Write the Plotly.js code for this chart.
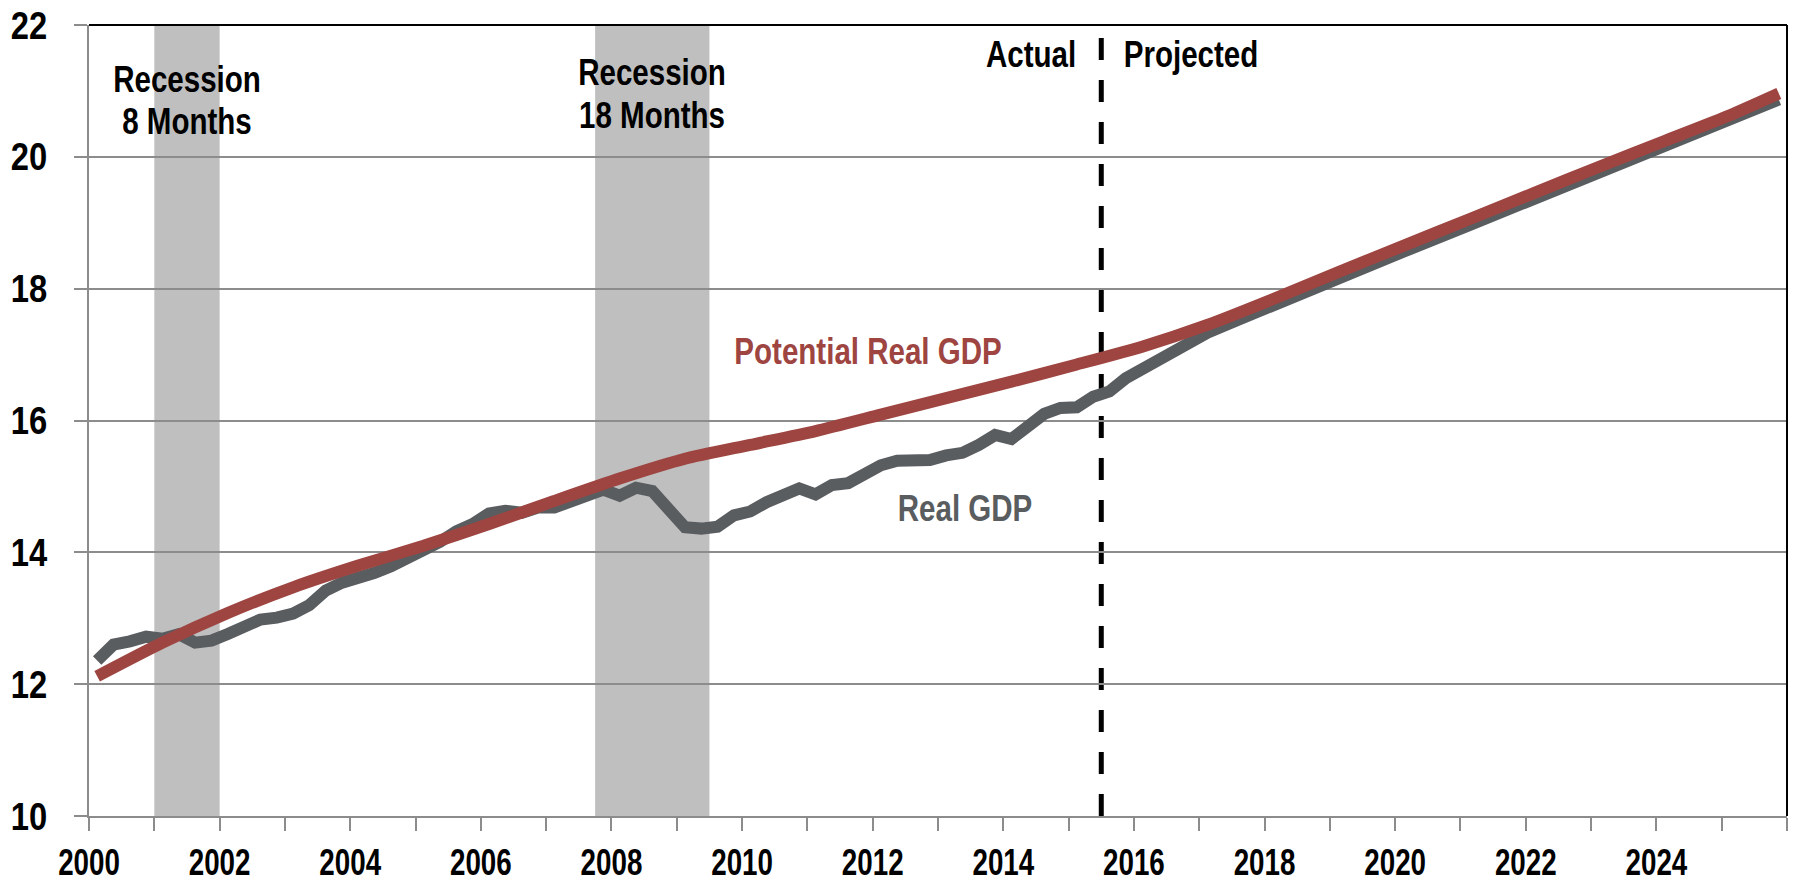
<!DOCTYPE html>
<html>
<head>
<meta charset="utf-8">
<script src="https://cdn.plot.ly/plotly-3.0.1.min.js"></script>
<style>
  html, body { margin: 0; padding: 0; background: #ffffff; }
  #chart { width: 1796px; height: 888px; }
</style>
</head>
<body>
<div id="chart"></div>
<script>
// ---- Data (trillions of 2009 dollars), x in decimal years (mid-quarter) ----
const actualX = [
  2000.125, 2000.375, 2000.625, 2000.875,
  2001.125, 2001.375, 2001.625, 2001.875,
  2002.125, 2002.375, 2002.625, 2002.875,
  2003.125, 2003.375, 2003.625, 2003.875,
  2004.125, 2004.375, 2004.625, 2004.875,
  2005.125, 2005.375, 2005.625, 2005.875,
  2006.125, 2006.375, 2006.625, 2006.875,
  2007.125, 2007.375, 2007.625, 2007.875,
  2008.125, 2008.375, 2008.625, 2008.875,
  2009.125, 2009.375, 2009.625, 2009.875,
  2010.125, 2010.375, 2010.625, 2010.875,
  2011.125, 2011.375, 2011.625, 2011.875,
  2012.125, 2012.375, 2012.625, 2012.875,
  2013.125, 2013.375, 2013.625, 2013.875,
  2014.125, 2014.375, 2014.625, 2014.875,
  2015.125, 2015.375
];
const realGdpActual = [
  12.36, 12.60, 12.65, 12.72,
  12.69, 12.76, 12.63, 12.66,
  12.76, 12.88, 12.98, 13.01,
  13.07, 13.20, 13.42, 13.54,
  13.60, 13.69, 13.79, 13.90,
  14.05, 14.16, 14.32, 14.43,
  14.59, 14.63, 14.60, 14.68,
  14.68, 14.78, 14.88, 14.95,
  14.86, 14.98, 14.93, 14.62,
  14.38, 14.36, 14.39, 14.56,
  14.62, 14.76, 14.87, 14.97,
  14.88, 15.02, 15.05, 15.21,
  15.32, 15.39, 15.40, 15.40,
  15.47, 15.51, 15.63, 15.78,
  15.72, 15.90, 16.10, 16.19,
  16.20, 16.36
];
const projectedX = [
  2015.625, 2015.875, 2016.125, 2016.625, 2017.125, 2017.625,
  2018.125, 2019.125, 2020.125, 2021.125, 2022.125, 2023.125,
  2024.125, 2025.125, 2025.875
];
const realGdpProjected = [
  16.44, 16.64, 16.78, 17.05, 17.33, 17.54,
  17.75, 18.16, 18.56, 18.96, 19.36, 19.76,
  20.15, 20.54, 20.87
];
const potentialX = [
  2000.125, 2001.125, 2002.125, 2003.125, 2004.125, 2005.125,
  2006.125, 2007.125, 2008.125, 2009.125, 2010.125, 2011.125,
  2012.125, 2013.125, 2014.125, 2015.125, 2016.125, 2017.125,
  2018.125, 2019.125, 2020.125, 2021.125, 2022.125, 2023.125,
  2024.125, 2025.125, 2025.875
];
const potentialGdp = [
  12.12, 12.63, 13.08, 13.47, 13.80, 14.10,
  14.43, 14.78, 15.12, 15.42, 15.63, 15.84,
  16.09, 16.34, 16.59, 16.85, 17.12, 17.45,
  17.84, 18.25, 18.65, 19.05, 19.45, 19.85,
  20.24, 20.63, 20.96
];
// Recession periods [start, end] in decimal years
const recessions = [[2001.0, 2002.0], [2007.75, 2009.5]];
const recessionLabels = [["Recession", "8 Months"], ["Recession", "18 Months"]];
const projectionStart = 2015.5;
const yearTicks = [];
for (let y = 2000; y <= 2026; y++) yearTicks.push(y);
const yearTickText = yearTicks.map(y => (y % 2 === 0 && y < 2026) ? String(y) : "");

// ---- Styling ----
const FONT = "'Liberation Sans Narrow', 'Arial Narrow', 'Liberation Sans', Arial, sans-serif";
const RED = "#9E4541";
const GRAY = "#595D60";

const traces = [
  {
    x: actualX.concat(projectedX),
    y: realGdpActual.concat(realGdpProjected),
    type: "scatter", mode: "lines",
    line: { color: GRAY, width: 12, shape: "linear" },
    hoverinfo: "skip", showlegend: false
  },
  {
    x: potentialX, y: potentialGdp,
    type: "scatter", mode: "lines",
    line: { color: RED, width: 12, shape: "spline", smoothing: 0.6 },
    hoverinfo: "skip", showlegend: false
  }
];

const shapes = recessions.map(r => ({
  type: "rect", xref: "x", yref: "paper", x0: r[0], x1: r[1], y0: 0, y1: 1,
  fillcolor: "#BFBFBF", line: { width: 0 }, layer: "between"
}));
shapes.push({
  type: "line", xref: "x", yref: "paper", x0: projectionStart, x1: projectionStart, y0: 0, y1: 1,
  line: { color: "#000000", width: 5, dash: "22px,20px" }, layer: "between"
});
// black top and right border
shapes.push({ type: "line", xref: "paper", yref: "paper", x0: 0, x1: 1, y0: 1, y1: 1,
  line: { color: "#000000", width: 2 }, layer: "above" });
shapes.push({ type: "line", xref: "paper", yref: "paper", x0: 1, x1: 1, y0: 0, y1: 1,
  line: { color: "#000000", width: 2 }, layer: "above" });

const annFont = (c) => ({ family: FONT, size: 36, color: c, weight: "bold" });
const ann = (x, y, text, color) => ({ x: x, y: y, xref: "x", yref: "y", text: text,
  showarrow: false, font: annFont(color), xanchor: "center", yanchor: "middle" });
const rc0 = (recessions[0][0] + recessions[0][1]) / 2;
const rc1 = (recessions[1][0] + recessions[1][1]) / 2;
const annotations = [
  ann(rc0, 21.17, recessionLabels[0][0], "#000000"),
  ann(rc0, 20.54, recessionLabels[0][1], "#000000"),
  ann(rc1, 21.28, recessionLabels[1][0], "#000000"),
  ann(rc1, 20.62, recessionLabels[1][1], "#000000"),
  ann(2014.43, 21.56, "Actual", "#000000"),
  ann(2016.88, 21.56, "Projected", "#000000"),
  ann(2011.93, 17.04, "Potential Real GDP", RED),
  ann(2013.42, 14.66, "Real GDP", GRAY)
];

const layout = {
  width: 1796, height: 888,
  margin: { l: 89, r: 9, t: 25, b: 72 },
  paper_bgcolor: "#ffffff", plot_bgcolor: "#ffffff",
  showlegend: false,
  font: { family: FONT, color: "#000000" },
  xaxis: {
    range: [2000, 2026], tickmode: "array", tickvals: yearTicks, ticktext: yearTickText,
    ticks: "outside", ticklen: 13, tickwidth: 2, tickcolor: "#8C8C8C",
    showline: true, linecolor: "#8C8C8C", linewidth: 2,
    showgrid: false, zeroline: false, ticklabelstandoff: 0,
    tickfont: { family: FONT, size: 37, color: "#000000", weight: "bold" }
  },
  yaxis: {
    range: [10, 22], tickmode: "linear", tick0: 10, dtick: 2,
    ticks: "outside", ticklen: 13, tickwidth: 2, tickcolor: "#8C8C8C",
    showline: true, linecolor: "#8C8C8C", linewidth: 2,
    showgrid: true, gridcolor: "#8C8C8C", gridwidth: 2, zeroline: false,
    ticklabelstandoff: 19,
    tickfont: { family: FONT, size: 39, color: "#000000", weight: "bold" }
  },
  shapes: shapes,
  annotations: annotations
};

// horizontal squeeze to emulate the narrow typeface of the original
function squeeze(el, f) {
  const L = el.getComputedTextLength();
  if (L > 0) {
    el.setAttribute("textLength", (L * f).toFixed(2));
    el.setAttribute("lengthAdjust", "spacingAndGlyphs");
  }
}

Plotly.newPlot("chart", traces, layout, { staticPlot: true, displayModeBar: false })
  .then(gd => {
    gd.querySelectorAll("svg text").forEach(t => {
      const f = t.closest(".xtick") ? 0.75 : (t.closest(".ytick") ? 0.84 : 0.82);
      const lines = t.querySelectorAll("tspan.line");
      if (lines.length) lines.forEach(s => squeeze(s, f)); else squeeze(t, f);
    });
  });
</script>
</body>
</html>
